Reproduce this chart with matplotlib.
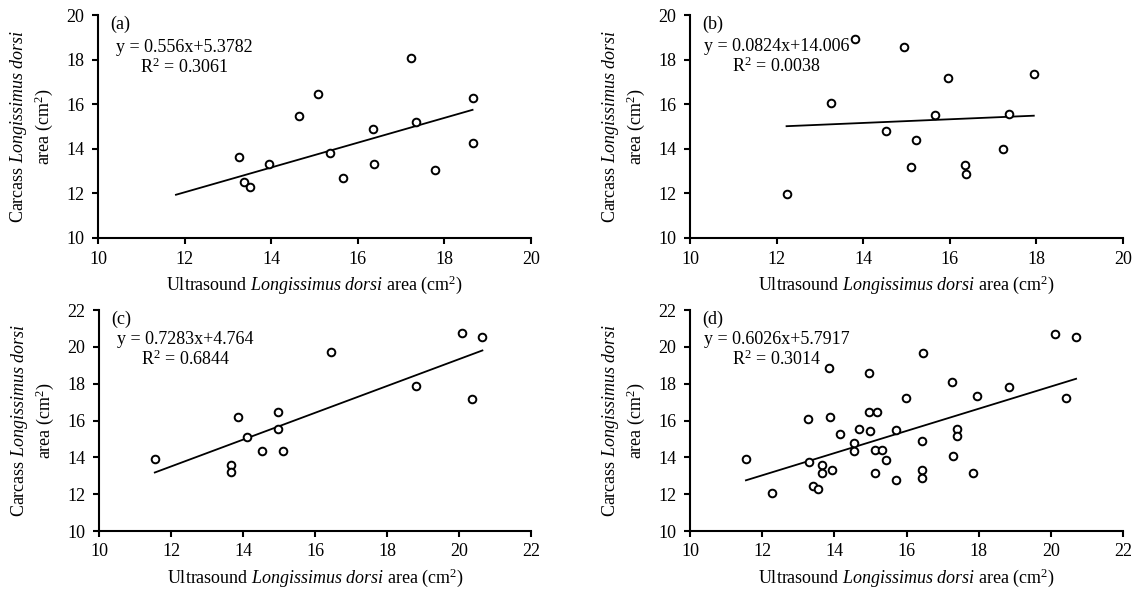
import numpy as np
import matplotlib
matplotlib.use("Agg")
import matplotlib.pyplot as plt

plt.rcParams["font.family"] = ["Liberation Serif", "DejaVu Serif"]
plt.rcParams["mathtext.fontset"] = "custom"
plt.rcParams["mathtext.rm"] = "Liberation Serif"
plt.rcParams["mathtext.it"] = "Liberation Serif:italic"

# Painel (a)
xa = [13.25, 13.38, 13.51, 13.95, 14.65, 15.09, 15.35, 15.66, 16.36, 16.37, 17.23, 17.35, 17.78, 18.65, 18.65]
ya = [13.65, 12.53, 12.28, 13.31, 15.48, 16.47, 13.82, 12.69, 14.87, 13.32, 18.08, 15.22, 13.07, 16.30, 14.28]

# Painel (b)
xb = [12.23, 13.25, 13.81, 14.52, 14.95, 15.10, 15.23, 15.66, 15.96, 16.36, 16.37, 17.24, 17.37, 17.94]
yb = [11.99, 16.06, 18.91, 14.82, 18.56, 13.17, 14.40, 15.52, 17.17, 13.26, 12.89, 14.01, 15.54, 17.34]

# Painel (c)
xc = [11.55, 13.68, 13.68, 13.87, 14.12, 14.54, 14.97, 14.97, 15.12, 16.45, 18.81, 20.08, 20.37, 20.65]
yc = [13.92, 13.58, 13.19, 16.18, 15.12, 14.35, 16.47, 15.56, 14.35, 19.71, 17.86, 20.76, 17.18, 20.56]

# Painel (d)
xd = [11.55, 12.26, 13.26, 13.29, 13.41, 13.55, 13.67, 13.67, 13.84, 13.89,
      13.93, 14.15, 14.55, 14.55, 14.69, 14.97, 14.97, 14.99, 15.17, 15.12,
      15.12, 15.32, 15.43, 15.70, 15.70, 15.98, 16.46, 16.42, 16.42, 16.42,
      17.27, 17.28, 17.41, 17.41, 17.84, 17.96, 18.85, 20.12, 20.41, 20.70]
yd = [13.92, 12.04, 16.09, 13.73, 12.42, 12.27, 13.56, 13.17, 18.85, 16.20,
      13.31, 15.29, 14.79, 14.37, 15.53, 18.60, 16.45, 15.42, 16.45, 14.42,
      13.17, 14.42, 13.85, 15.49, 12.75, 17.20, 19.69, 14.88, 13.29, 12.86,
      18.08, 14.08, 15.56, 15.16, 13.13, 17.34, 17.81, 20.69, 17.20, 20.55]

# coeficientes da regressao (inclinacao, intercepto, R2) e faixa da reta
slopes = [0.556, 0.0824, 0.7283, 0.6026]
intercepts = [5.3782, 14.006, 4.764, 5.7917]
r2 = ["0.3061", "0.0038", "0.6844", "0.3014"]
eq_labels = ["y = 0.556x+5.3782", "y = 0.0824x+14.006", "y = 0.7283x+4.764", "y = 0.6026x+5.7917"]
fit_ranges = [(11.8, 18.65), (12.23, 17.94), (11.55, 20.65), (11.55, 20.7)]
panel_tags = ["(a)", "(b)", "(c)", "(d)"]
x_limits = [(10, 20), (10, 20), (10, 22), (10, 22)]
y_limits = [(10, 20), (10, 20), (10, 22), (10, 22)]

dados = [(xa, ya), (xb, yb), (xc, yc), (xd, yd)]

fig = plt.figure(figsize=(11.35, 5.9), dpi=100)
W, H = 1135, 590
# caixas em pixels: esquerda, topo, direita, base
caixas = [(98, 15, 531, 238), (690, 15, 1123, 238), (99, 310, 531, 531), (690, 310, 1123, 531)]
eq_y = [0.807, 0.81, 0.82, 0.82]

for i, (px, py) in enumerate(dados):
    l, t, r, b = caixas[i]
    ax = fig.add_axes([l / W, 1 - b / H, (r - l) / W, (b - t) / H])
    ax.plot(px, py, "o", mfc="white", mec="black", ms=5.5, mew=1.4, zorder=3)
    xf = np.array(fit_ranges[i])
    ax.plot(xf, slopes[i] * xf + intercepts[i], color="black", lw=1.3)

    ax.set_xlim(*x_limits[i])
    ax.set_ylim(*y_limits[i])
    ax.set_xticks(np.arange(x_limits[i][0], x_limits[i][1] + 1, 2))
    ax.set_yticks(np.arange(y_limits[i][0], y_limits[i][1] + 1, 2))
    for s in ["top", "right"]:
        ax.spines[s].set_visible(False)
    for s in ["left", "bottom"]:
        ax.spines[s].set_linewidth(1.5)
    ax.tick_params(direction="out", length=4, width=1.5, labelsize=13)
    ax.tick_params(axis="x", pad=5)
    ax.tick_params(axis="y", pad=6)

    ax.set_xlabel(r"Ultrasound $\mathit{Longissimus\ dorsi}$ area (cm$^2$)", fontsize=13, labelpad=4)
    ax.set_ylabel("Carcass $\\mathit{Longissimus\\ dorsi}$\narea (cm$^2$)", fontsize=13, labelpad=8)

    ax.text(0.028, 0.995, panel_tags[i], transform=ax.transAxes, fontsize=13, va="top", ha="left")
    ax.text(0.2, eq_y[i], eq_labels[i] + "\nR$^2$ = " + r2[i], transform=ax.transAxes,
            fontsize=13, va="center", ha="center", multialignment="center", linespacing=1.1)

fig.savefig("out.png", dpi=100)
